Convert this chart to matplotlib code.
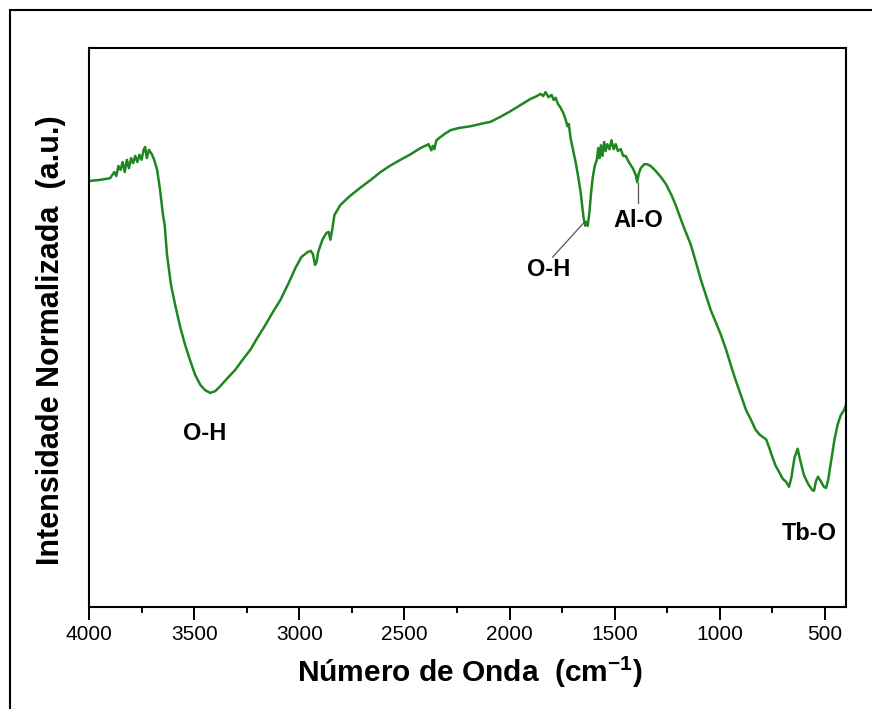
import numpy as np
import matplotlib
matplotlib.use("Agg")
from matplotlib import pyplot as plt
from matplotlib.patches import Rectangle
from matplotlib.ticker import MultipleLocator

plt.rcParams['font.family'] = ['Liberation Sans', 'DejaVu Sans']
plt.rcParams['mathtext.fontset'] = 'custom'
plt.rcParams['mathtext.rm'] = 'Liberation Sans:bold'
plt.rcParams['mathtext.bf'] = 'Liberation Sans:bold'

# FTIR spectrum, wavenumber (cm-1) vs normalised intensity (a.u.)
wavenumber = [4000, 3950, 3900, 3880, 3870, 3860, 3850, 3840, 3830, 3820, 3810, 3800,
              3790, 3780, 3770, 3760, 3750, 3740, 3733, 3725, 3715, 3700, 3690, 3676,
              3662, 3648, 3640, 3629, 3610, 3590, 3565, 3543, 3520, 3495, 3470, 3448,
              3424, 3400, 3376, 3340, 3305, 3270, 3233, 3200, 3162, 3125, 3090, 3050,
              3019, 2990, 2960, 2945, 2935, 2925, 2918, 2910, 2890, 2871, 2860, 2852,
              2845, 2833, 2805, 2760, 2710, 2660, 2614, 2570, 2519, 2470, 2424, 2395,
              2385, 2372, 2365, 2358, 2348, 2310, 2281, 2240, 2186, 2140, 2090, 2043,
              2000, 1948, 1900, 1870, 1852, 1840, 1829, 1815, 1800, 1790, 1781, 1770,
              1757, 1745, 1733, 1725, 1718, 1710, 1700, 1686, 1675, 1662, 1655, 1648,
              1640, 1634, 1628, 1620, 1612, 1605, 1595, 1585, 1578, 1572, 1565, 1558,
              1550, 1543, 1535, 1525, 1515, 1505, 1495, 1485, 1471, 1460, 1448, 1430,
              1414, 1400, 1393, 1385, 1376, 1360, 1345, 1329, 1305, 1280, 1257, 1230,
              1210, 1175, 1138, 1110, 1090, 1065, 1043, 1020, 995, 970, 948, 925,
              900, 875, 852, 830, 810, 795, 780, 765, 750, 735, 719, 700,
              685, 671, 660, 645, 630, 618, 600, 580, 560, 552, 543, 533,
              520, 505, 495, 485, 470, 455, 440, 425, 410, 400]
intensity = [76.2, 76.4, 76.7, 77.8, 77.1, 78.9, 78.2, 79.6, 77.8, 80.0, 78.5, 80.3,
             79.4, 80.7, 79.6, 80.9, 80.0, 81.8, 82.3, 80.3, 81.8, 80.9, 80.0, 78.2,
             74.6, 70.1, 68.3, 63.0, 57.6, 54.0, 49.9, 46.9, 44.2, 41.5, 39.7, 38.8,
             38.3, 38.6, 39.5, 41.0, 42.4, 44.2, 46.0, 48.1, 50.4, 52.8, 54.9, 58.0,
             60.6, 62.6, 63.5, 63.7, 63.1, 61.2, 61.7, 63.5, 65.7, 66.9, 67.1, 65.7,
             67.1, 70.1, 71.9, 73.5, 75.0, 76.4, 77.8, 78.9, 80.0, 81.0, 82.1, 82.6,
             82.8, 81.7, 82.5, 81.9, 83.5, 84.6, 85.3, 85.7, 86.0, 86.4, 86.8, 87.7,
             88.6, 89.8, 90.9, 91.4, 91.8, 91.4, 92.1, 91.2, 91.6, 90.7, 91.1, 90.0,
             89.3, 88.4, 87.2, 86.0, 86.4, 83.9, 82.1, 79.6, 77.3, 74.2, 71.9, 69.6,
             68.2, 68.9, 68.2, 70.7, 74.2, 76.7, 78.9, 80.0, 82.1, 80.3, 82.6, 80.7,
             83.2, 81.6, 82.8, 81.9, 83.5, 81.9, 82.8, 81.6, 81.9, 80.7, 80.7, 79.4,
             78.5, 77.3, 76.0, 77.6, 78.5, 79.2, 79.2, 78.9, 78.0, 76.9, 75.7, 73.7,
             71.9, 68.3, 64.8, 61.2, 58.5, 55.6, 53.1, 51.0, 48.7, 46.0, 43.3, 40.6,
             37.9, 35.2, 33.5, 31.7, 30.8, 30.4, 30.0, 28.5, 26.8, 25.3, 24.2, 22.9,
             22.4, 21.5, 23.1, 26.7, 28.3, 26.3, 23.6, 22.0, 20.9, 20.8, 22.5, 23.3,
             22.5, 21.5, 21.3, 22.7, 26.3, 29.9, 32.6, 34.3, 35.2, 36.1]

# band assignments: label, text position, line start/end (or None)
band_labels = ["O-H", "O-H", "Al-O", "Tb-O"]
label_pos = [(3448, 31.1), (1814, 60.3), (1390, 69.2), (576, 13.2)]
label_lines = [None, ((1795, 62.6), (1643, 68.9)), ((1390, 72.3), (1390, 75.8)), None]

fig = plt.figure(figsize=(8.72, 7.09), dpi=100)
ax = fig.add_axes([89/872, 1-607/709, (846-89)/872, (607-48)/709])

ax.plot(wavenumber, intensity, color='#1f871f', lw=1.8)

for lab, pos, seg in zip(band_labels, label_pos, label_lines):
    ax.text(pos[0], pos[1], lab, ha='center', va='center', fontsize=17, fontweight='bold')
    if seg is not None:
        ax.plot([seg[0][0], seg[1][0]], [seg[0][1], seg[1][1]], color='#555555', lw=0.9)

ax.set_xlim(4000, 400)
ax.set_ylim(0, 100)
ax.xaxis.set_major_locator(MultipleLocator(500))
ax.xaxis.set_minor_locator(MultipleLocator(250))
ax.set_yticks([])
ax.tick_params(axis='x', which='major', length=9, width=1.4, labelsize=15, pad=4)
ax.tick_params(axis='x', which='minor', length=4.5, width=1.4)
for sp in ax.spines.values():
    sp.set_linewidth(1.5)

ax.set_xlabel("Número de Onda  (cm$^{-1}$)", fontsize=21.5, fontweight='bold')
ax.set_ylabel("Intensidade Normalizada  (a.u.)", fontsize=22, fontweight='bold')
ax.xaxis.set_label_coords(0.503, -0.085)
ax.yaxis.set_label_coords(-0.03, 0.478)

# frame around the whole figure
fig.patches.append(Rectangle((10/872, -0.1), 1.2, 1.1 - 10/709, transform=fig.transFigure,
                             fill=False, lw=1.5, edgecolor='black'))

fig.savefig("out.png", dpi=100)
